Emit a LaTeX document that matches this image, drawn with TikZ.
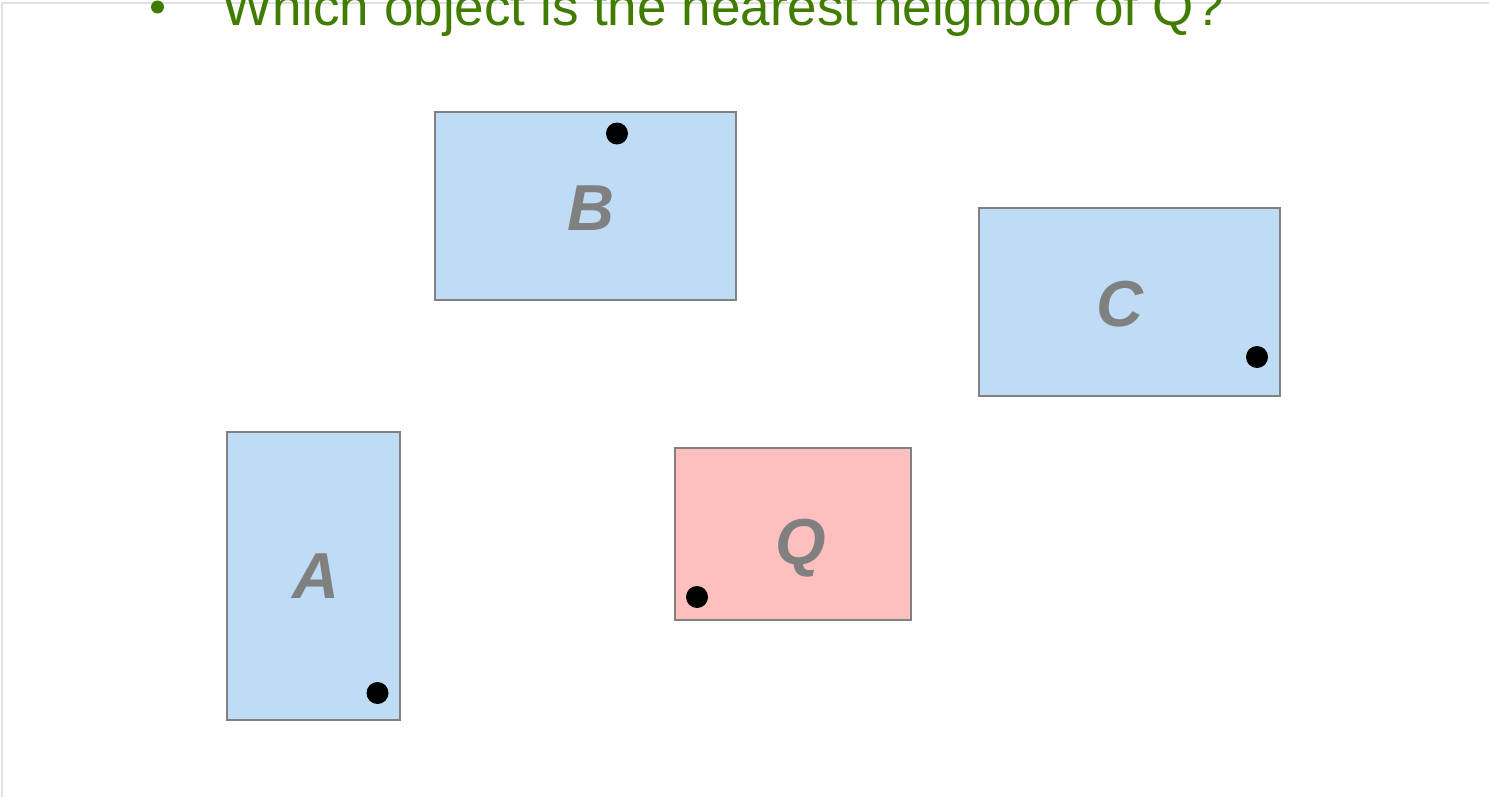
\documentclass[tikz,border=0pt]{standalone}
\usepackage{fontspec}
\setmainfont{Liberation Sans}
\definecolor{boxblue}{RGB}{190,220,245}
\definecolor{boxpink}{RGB}{255,191,191}
\definecolor{boxedge}{RGB}{128,128,128}
\definecolor{titlegreen}{RGB}{64,124,0}
\definecolor{framegray}{RGB}{225,225,225}
\begin{document}
\begin{tikzpicture}[x=1pt,y=-1pt,
  objbox/.style={draw=boxedge,line width=2pt,fill=boxblue,rectangle,anchor=north west,inner sep=0pt,outer sep=0pt},
  qbox/.style={objbox,fill=boxpink},
  objlabel/.style={anchor=base,inner sep=0pt,text=boxedge,font=\fontsize{65}{65}\selectfont\bfseries\itshape},
  ptdot/.style={circle,fill=black,minimum size=22pt,inner sep=0pt}]
\useasboundingbox (0,0) rectangle (1489,797);
\draw[framegray,line width=1.5pt] (2,797) -- (2,3) -- (1489,3);
% title
\node[circle,fill=titlegreen,minimum size=13pt,inner sep=0pt] (bul) at (157.5,7) {};
\node[anchor=base west,inner sep=0pt,text=titlegreen,font=\fontsize{53}{53}\selectfont] (title) at (222,26) {Which object is the nearest neighbor of Q?};
% boxes
\node[objbox,minimum width=301pt,minimum height=188pt] (B) at (435,112) {};
\node[objbox,minimum width=301pt,minimum height=188pt] (C) at (979,208) {};
\node[objbox,minimum width=173pt,minimum height=288pt] (A) at (227,432) {};
\node[qbox,minimum width=236pt,minimum height=172pt] (Q) at (675,448) {};
% labels
\node[objlabel] (Bl) at (591,230) {B};
\node[objlabel] (Cl) at (1120,326) {C};
\node[objlabel] (Al) at (316,598) {A};
\node[objlabel] (Ql) at (801,564) {Q};
% dots
\node[ptdot] (Bd) at (617,133.5) {};
\node[ptdot] (Cd) at (1257,357) {};
\node[ptdot] (Ad) at (377.5,693) {};
\node[ptdot] (Qd) at (697,597) {};
\end{tikzpicture}
\end{document}
